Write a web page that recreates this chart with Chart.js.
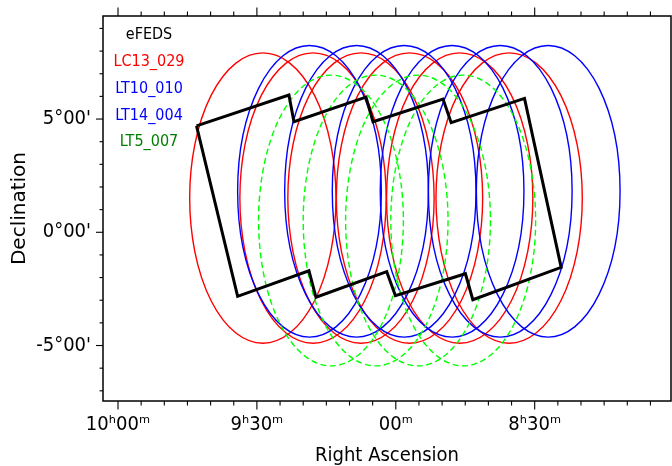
<!DOCTYPE html>
<html>
<head>
<meta charset="utf-8">
<script src="https://cdn.jsdelivr.net/npm/chart.js@4.4.1/dist/chart.umd.min.js"></script>
<style>
  html, body { margin: 0; padding: 0; background: #fff; }
</style>
</head>
<body>
<canvas id="sky" width="672" height="466"></canvas>
<script>
/* ── axis ticks (RA in degrees, Dec in degrees) ── */
const raTicks = [150, 142.5, 135, 127.5];
const raTickLabels = ['10ʰ00ᵐ', '9ʰ30ᵐ', '00ᵐ', '8ʰ30ᵐ'];
const decTicks = [5, 0, -5];
const decTickLabels = ["5°00'", "0°00'", "-5°00'"];
const raRange = [120.14, 150.81];
const decRange = [-7.45, 9.55];

/* ── eFEDS footprint (polygon vertices) ── */
const efedsRa  = [145.76, 140.77, 140.50, 136.61, 136.23, 132.45, 132.01, 128.05, 126.07,
                  130.84, 131.24, 135.02, 135.49, 139.31, 139.69, 143.54, 145.76];
const efedsDec = [4.70, 6.06, 4.88, 5.97, 4.88, 5.88, 4.84, 5.91, -1.55,
                  -2.98, -1.83, -2.80, -1.74, -2.87, -1.70, -2.83, 4.70];

/* ── field centres, [RA radius, Dec radius] ── */
const lc13Ra = [142.18, 139.47, 136.88, 134.26, 131.55, 128.88];
const lc13Dec = 1.51;
const lc13R = [3.95, 6.41];
const lt10Ra = [139.66, 134.55, 129.36];
const lt10Dec = 1.81;
const lt10R = [3.88, 6.44];
const lt14Ra = [137.12, 131.96, 126.77];
const lt14Dec = 1.81;
const lt14R = [3.88, 6.44];
const lt5Ra = [138.50, 136.09, 133.80, 131.36];
const lt5Dec = 0.52;
const lt5R = [3.91, 6.42];

const legendNames = ['eFEDS', 'LC13_029', 'LT10_010', 'LT14_004', 'LT5_007'];
const legendColors = ['#000000', '#ff0000', '#0000ff', '#0000ff', '#008000'];

const fields = [
  { ra: lc13Ra, dec: lc13Dec, r: lc13R, color: '#ff0000', dash: [] },
  { ra: lt10Ra, dec: lt10Dec, r: lt10R, color: '#0000ff', dash: [] },
  { ra: lt14Ra, dec: lt14Dec, r: lt14R, color: '#0000ff', dash: [] },
  { ra: lt5Ra,  dec: lt5Dec,  r: lt5R,  color: '#00ff00', dash: [6, 3.5] },
];

const COND = "'DejaVu Sans Condensed', 'DejaVu Sans', sans-serif";

/* Fields (ellipses) under the footprint, ticks/frame/labels on top */
const skyPlugin = {
  id: 'sky',
  beforeDatasetsDraw(chart) {
    const { ctx, chartArea: a, scales: { x, y } } = chart;
    ctx.save();
    ctx.beginPath(); ctx.rect(a.left, a.top, a.right - a.left, a.bottom - a.top); ctx.clip();
    fields.forEach(f => {
      ctx.strokeStyle = f.color; ctx.lineWidth = 1.4; ctx.setLineDash(f.dash);
      f.ra.forEach(ra => {
        const cx = x.getPixelForValue(ra), cy = y.getPixelForValue(f.dec);
        const rx = Math.abs(x.getPixelForValue(ra + f.r[0]) - cx);
        const ry = Math.abs(y.getPixelForValue(f.dec + f.r[1]) - cy);
        ctx.beginPath(); ctx.ellipse(cx, cy, rx, ry, 0, 0, Math.PI * 2); ctx.stroke();
      });
    });
    ctx.restore();
  },
  afterDraw(chart) {
    const { ctx, chartArea: a, scales: { x, y } } = chart;
    ctx.save();
    ctx.strokeStyle = '#000'; ctx.setLineDash([]);
    // frame
    ctx.lineWidth = 1.5;
    ctx.strokeRect(a.left, a.top, a.right - a.left, a.bottom - a.top);
    // RA ticks, bottom and top, every 5 minutes
    ctx.lineWidth = 1.1;
    for (let v = raTicks[0]; v > raRange[0]; v -= 1.25) {
      const px = x.getPixelForValue(v);
      const len = raTicks.includes(v) ? 8.5 : 4.5;
      ctx.beginPath();
      ctx.moveTo(px, a.bottom); ctx.lineTo(px, a.bottom + len);
      ctx.moveTo(px, a.top); ctx.lineTo(px, a.top - len);
      ctx.stroke();
    }
    // Dec ticks, every degree
    for (let v = -7; v <= 9; v += 1) {
      const py = y.getPixelForValue(v);
      const len = decTicks.includes(v) ? 7 : 3.5;
      ctx.beginPath(); ctx.moveTo(a.left, py); ctx.lineTo(a.left - len, py); ctx.stroke();
    }
    // legend text
    ctx.font = `16px ${COND}`;
    ctx.textAlign = 'center'; ctx.textBaseline = 'middle';
    legendNames.forEach((n, i) => {
      ctx.fillStyle = legendColors[i];
      ctx.fillText(n, a.left + 46, a.top + 19 + i * 26.8);
    });
    ctx.restore();
  }
};

new Chart(document.getElementById('sky'), {
  type: 'scatter',
  data: {
    datasets: [{
      data: efedsRa.map((ra, i) => ({ x: ra, y: efedsDec[i] })),
      showLine: true, borderColor: '#000', borderWidth: 3, pointRadius: 0,
      tension: 0, borderJoinStyle: 'miter', clip: false,
    }]
  },
  options: {
    responsive: false, animation: false,
    layout: { padding: { left: 0, right: 1, top: 0, bottom: 0 } },
    plugins: { legend: { display: false }, tooltip: { enabled: false } },
    scales: {
      x: {
        type: 'linear', position: 'bottom', reverse: true, min: raRange[0], max: raRange[1],
        afterBuildTicks: s => { s.ticks = raTicks.map(v => ({ value: v })); },
        afterFit: s => { s.height = 65; s.paddingLeft = 0; s.paddingRight = 0; },
        grid: { display: false }, border: { display: false },
        ticks: { callback: (v, i) => raTickLabels[i], padding: 4, color: '#000',
                 font: { family: COND, size: 20 }, maxRotation: 0, autoSkip: false },
        title: { display: true, text: 'Right Ascension', color: '#000', padding: 0,
                 font: { family: COND, size: 20, lineHeight: 1.0 } },
      },
      xTop: {
        type: 'linear', position: 'top', reverse: true, min: raRange[0], max: raRange[1],
        afterFit: s => { s.height = 16; s.paddingLeft = 0; s.paddingRight = 0; },
        grid: { display: false }, border: { display: false }, ticks: { display: false },
      },
      y: {
        type: 'linear', position: 'left', min: decRange[0], max: decRange[1],
        afterBuildTicks: s => { s.ticks = decTicks.map(v => ({ value: v })); },
        afterFit: s => { s.width = 103; s.paddingTop = 0; s.paddingBottom = 0; },
        grid: { display: false }, border: { display: false },
        ticks: { callback: (v, i) => decTickLabels[i], padding: 4, color: '#000',
                 font: { family: COND, size: 20 }, autoSkip: false },
        title: { display: true, text: 'Declination', color: '#000', padding: { top: 8, bottom: 0 },
                 font: { family: "'DejaVu Sans', sans-serif", size: 20 } },
      }
    }
  },
  plugins: [skyPlugin]
});
</script>
</body>
</html>
